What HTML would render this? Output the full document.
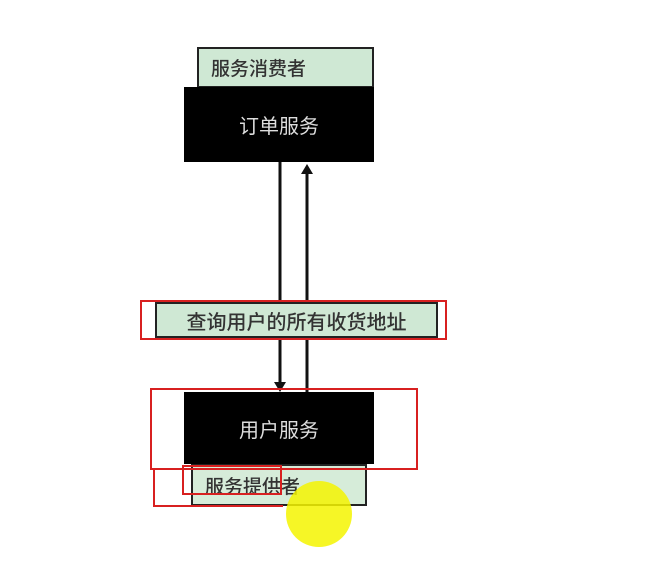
<!DOCTYPE html>
<html><head><meta charset="utf-8"><style>
body{margin:0;width:657px;height:568px;background:#fff;position:relative;overflow:hidden;font-family:"Liberation Sans","Noto Sans CJK SC",sans-serif}
div{position:absolute;box-sizing:border-box}
.g{background:#cfe8d4;border:2px solid #222;color:#333;font-size:19px;font-weight:500;display:flex;align-items:center;justify-content:center}
.b{background:#000;color:#ddd;font-size:20px;display:flex;align-items:center;justify-content:center}
.r{border:2px solid #d82020}
</style></head><body>
<svg width="657" height="568" style="position:absolute;left:0;top:0">
<line x1="280" y1="162" x2="280" y2="382" stroke="#111" stroke-width="3"/>
<polygon points="274,382 286,382 280,392" fill="#111"/>
<line x1="307" y1="392" x2="307" y2="172" stroke="#111" stroke-width="3"/>
<polygon points="301,174 313,174 307,164" fill="#111"/>
</svg>
<div class="g" style="left:197px;top:47px;width:177px;height:41px;justify-content:flex-start;padding-left:12px">服务消费者</div>
<div class="b" style="left:184px;top:87px;width:190px;height:75px">订单服务</div>
<div class="g" style="left:155px;top:302px;width:283px;height:36px;font-size:20px">查询用户的所有收货地址</div>
<div class="r" style="left:140px;top:300px;width:307px;height:40px"></div>
<div class="g" style="left:191px;top:464px;width:176px;height:42px;justify-content:flex-start;padding-left:12px;background:#d6ecd9">服务提供者</div>
<div style="left:286px;top:481px;width:66px;height:66px;border-radius:50%;background:#f4f400;opacity:0.85"></div>
<div class="b" style="left:184px;top:392px;width:190px;height:72px">用户服务</div>
<div class="r" style="left:150px;top:388px;width:268px;height:82px"></div>
<div class="r" style="left:182px;top:465px;width:100px;height:30px"></div>
<div class="r" style="left:153px;top:470px;width:130px;height:37px;border-right:none;border-top:none"></div>
</body></html>
